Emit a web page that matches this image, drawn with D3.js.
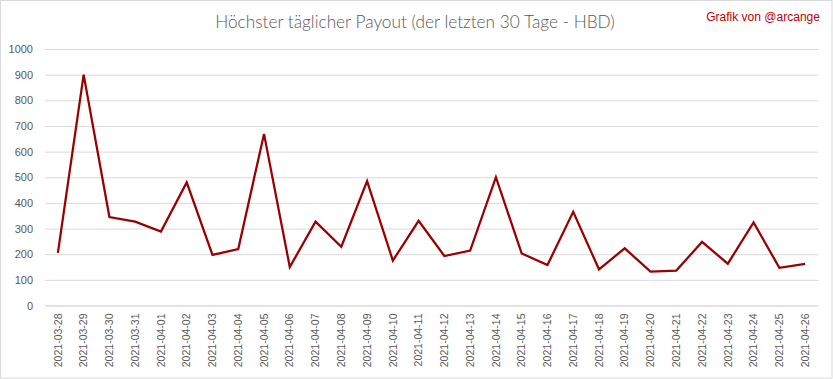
<!DOCTYPE html>
<html><head><meta charset="utf-8">
<script src="https://cdn.jsdelivr.net/npm/d3@7"></script>
<style>body{margin:0;background:#fff}svg{display:block}</style>
</head><body><svg id="c" width="833" height="379"></svg>
<script>
const dates = ["2021-03-28","2021-03-29","2021-03-30","2021-03-31","2021-04-01","2021-04-02","2021-04-03","2021-04-04","2021-04-05","2021-04-06","2021-04-07","2021-04-08","2021-04-09","2021-04-10","2021-04-11","2021-04-12","2021-04-13","2021-04-14","2021-04-15","2021-04-16","2021-04-17","2021-04-18","2021-04-19","2021-04-20","2021-04-21","2021-04-22","2021-04-23","2021-04-24","2021-04-25","2021-04-26"];
const payout = [205,900,345,327,288,480,197,220,669,150,327,229,485,175,330,193,214,500,203,158,365,141,223,132,136,248,163,324,147,162];
const yTicks = [0,100,200,300,400,500,600,700,800,900,1000];
const titleText = "Höchster täglicher Payout (der letzten 30 Tage - HBD)";
const creditText = "Grafik von @arcange";

const svg = d3.select("#c");
const W = 833, H = 379;
const m = {left:45, right:15, top:49, bottom:73.5};
svg.append("rect").attr("x",0.5).attr("y",0.5).attr("width",W-1.5).attr("height",H-1.5)
  .attr("fill","#fff").attr("stroke","#d9d9d9");

const x = d3.scaleBand().domain(dates).range([m.left, W - m.right]).padding(0);
const y = d3.scaleLinear().domain([0,1000]).range([H - m.bottom, m.top]);

const yAxis = d3.axisLeft(y).tickValues(yTicks).tickFormat(d3.format("d"))
  .tickSize(-(W - m.right - m.left)).tickPadding(12);
const gy = svg.append("g").attr("transform",`translate(${m.left},0)`).call(yAxis);
gy.select(".domain").remove();
gy.selectAll(".tick line").attr("stroke","#d9d9d9").attr("stroke-width",1);
gy.selectAll(".tick text").attr("fill","#595959").attr("font-family","Liberation Sans, Arial, sans-serif").attr("font-size","11px");

const xAxis = d3.axisBottom(x).tickSize(0).tickPadding(0);
const gx = svg.append("g").attr("transform",`translate(0,${H - m.bottom})`).call(xAxis);
gx.select(".domain").attr("stroke","#d9d9d9");
gx.selectAll(".tick text")
  .attr("fill","#595959").attr("font-family","Liberation Sans, Arial, sans-serif").attr("font-size","10.5px")
  .attr("text-anchor","end").attr("dy","0.35em")
  .attr("transform","translate(0,8) rotate(-90)").attr("x",0).attr("y",0);

const line = d3.line().x((d,i)=>x(dates[i]) + x.bandwidth()/2).y(d=>y(d));
svg.append("path").datum(payout).attr("d",line).attr("fill","none")
  .attr("stroke","#990000").attr("stroke-width",2.25).attr("stroke-linejoin","miter");

const t = svg.append("text").attr("x",415).attr("y",28).attr("text-anchor","middle")
  .attr("fill","#595959").attr("font-family","Lato, sans-serif").attr("font-weight",300)
  .attr("font-size","18px").text(titleText);
const tw = t.node().getComputedTextLength();
t.attr("font-size", (18*400/tw).toFixed(2)+"px");

const c = svg.append("text").attr("x",820).attr("y",21).attr("text-anchor","end")
  .attr("fill","#c00000").attr("font-family","Liberation Sans, Arial, sans-serif")
  .attr("font-size","12px").text(creditText);
const cw = c.node().getComputedTextLength();
c.attr("font-size", (12*114/cw).toFixed(2)+"px");
</script></body></html>
